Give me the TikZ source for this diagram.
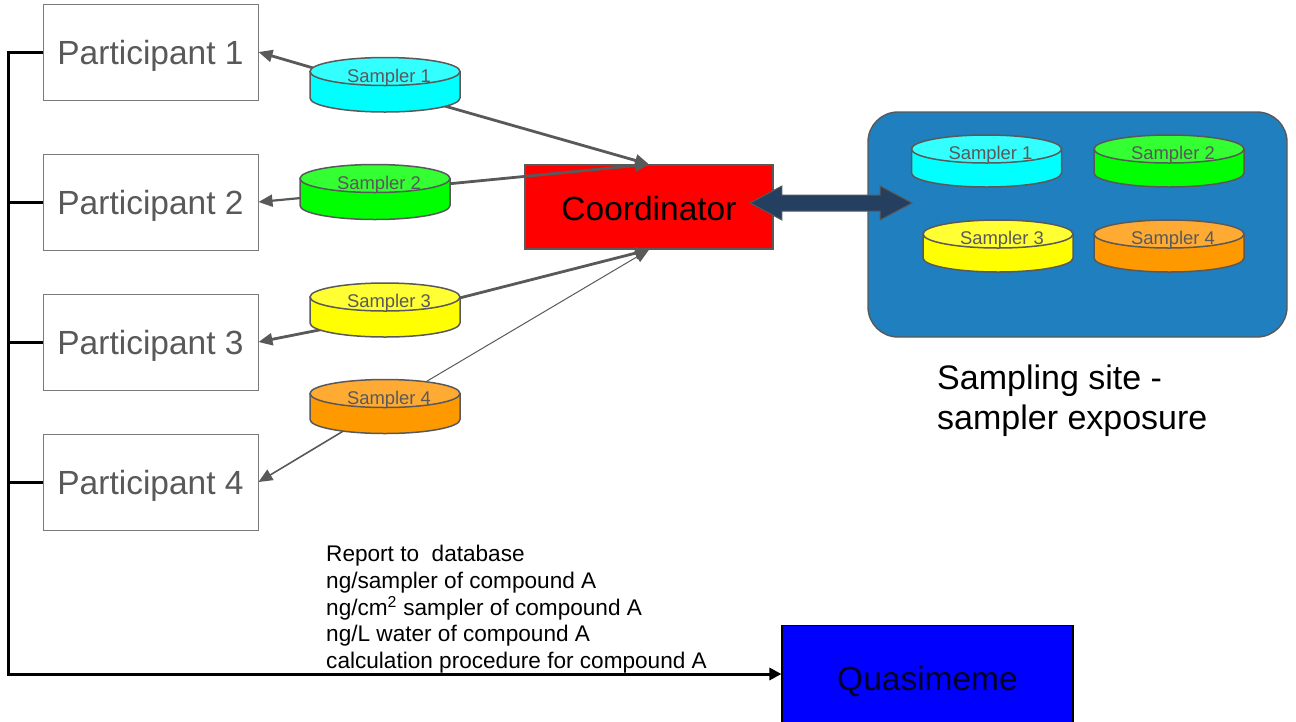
\documentclass[tikz,border=0pt]{standalone}
\usepackage{fontspec}
\setmainfont{Liberation Sans}
\usetikzlibrary{arrows.meta,shapes.arrows}
\definecolor{edgegray}{HTML}{595959}
\definecolor{sitefill}{HTML}{1F7FBF}
\definecolor{linkfill}{HTML}{243F60}
\definecolor{cyanlight}{HTML}{33FFFF}
\definecolor{cyanbody}{HTML}{00FFFF}
\definecolor{greenlight}{HTML}{33FF33}
\definecolor{greenbody}{HTML}{00FF00}
\definecolor{yellowlight}{HTML}{FFFF33}
\definecolor{yellowbody}{HTML}{FFFF00}
\definecolor{orangelight}{HTML}{FFAA33}
\definecolor{orangebody}{HTML}{FF9900}
\definecolor{redbody}{HTML}{FF0000}
\definecolor{bluebody}{HTML}{0000FF}
\newcommand{\low}[2]{\raisebox{-#1pt}[0pt][0pt]{#2}}
\tikzset{
  partbox/.style={draw=edgegray!80,line width=1pt,fill=white,minimum width=215pt,minimum height=96pt,inner sep=0pt,text=edgegray,font=\fontsize{33.5}{36}\selectfont},
  coordbox/.style={draw=edgegray,line width=1.4pt,fill=redbody,minimum width=248pt,minimum height=84pt,inner sep=0pt,text=black,font=\fontsize{33.5}{36}\selectfont},
  quasibox/.style={draw=black,line width=1.1pt,fill=bluebody,minimum width=291pt,minimum height=97pt,inner sep=0pt,text=black!85!blue,font=\fontsize{33.5}{36}\selectfont},
  sitebox/.style={draw=edgegray,line width=1.4pt,fill=sitefill,rounded corners=30pt,minimum width=419pt,minimum height=225pt,inner sep=0pt},
  linkarrow/.style={double arrow,draw=edgegray,line width=1pt,fill=linkfill,minimum height=162pt,double arrow head extend=9pt,double arrow tip angle=56,inner xsep=0pt,inner ysep=7.5pt},
  conn/.style={draw=edgegray,line width=#1,-{Triangle[length=14pt,width=12pt]}},
  trunk/.style={draw=black,line width=3pt},
  disclabel/.style={text=edgegray,font=\fontsize{18.4}{20}\selectfont,inner sep=0pt},
  disc/.style={draw=edgegray,line width=1.5pt},
  plaintext/.style={text=black,inner sep=0pt,align=left,anchor=north west},
}
% centre x, top y, total height, light colour, body colour, text, node name
\newcommand{\samplerdisc}[7]{%
  \path[disc,fill=#5] (#1-75,#2+14) -- (#1-75,#2+#3-14) arc[start angle=180,end angle=360,x radius=75pt,y radius=14pt] -- (#1+75,#2+14) -- cycle;
  \path[disc,fill=#4] (#1,#2+14) ellipse[x radius=75pt,y radius=14pt];
  \node[disclabel] (#7) at (#1+4,#2+20) {#6};
}
\begin{document}
\begin{tikzpicture}[x=1pt,y=-1pt]
\useasboundingbox (0,0) rectangle (1296,721);
% boxes
\node[partbox] (p1) at (150.5,52) {\low{12}{Participant 1}};
\node[partbox] (p2) at (150.5,202) {\low{12}{Participant 2}};
\node[partbox] (p3) at (150.5,342) {\low{12}{Participant 3}};
\node[partbox] (p4) at (150.5,482) {\low{12}{Participant 4}};
\node[coordbox] (coord) at (649,207) {\low{13}{Coordinator}};
\node[sitebox] (site) at (1077.5,224.5) {};
\node[quasibox] (quasi) at (927.5,674) {\low{16}{Quasimeme}};
% hubs of the samplers
\coordinate (h1) at (385,89);
\coordinate (h2) at (375,191);
\coordinate (h3) at (385,317);
\coordinate (h4) at (385,406);
\coordinate (corner) at (8,52);
% connectors
\draw[conn=2.8pt] (h1) -- (p1.east);
\draw[conn=2.8pt] (h1) -- (coord.north);
\draw[conn=2.2pt] (h2) -- (p2.east);
\draw[conn=2.8pt] (h2) -- (coord.north);
\draw[conn=2.8pt] (h3) -- (p3.east);
\draw[conn=2.8pt] (h3) -- (coord.south);
\draw[conn=1.6pt] (h4) -- (p4.east);
\draw[conn=1pt] (h4) -- (coord.south);
% participant trunk
\draw[trunk,-{Triangle[length=12pt,width=12pt]}] (p1.west) -- (corner) |- (quasi.west);
\draw[trunk] (p2.west) -- (p2.west -| corner);
\draw[trunk] (p3.west) -- (p3.west -| corner);
\draw[trunk] (p4.west) -- (p4.west -| corner);
% samplers
\samplerdisc{385}{57.5}{54.5}{cyanlight}{cyanbody}{Sampler 1}{a1}
\samplerdisc{375}{164.5}{55}{greenlight}{greenbody}{Sampler 2}{a2}
\samplerdisc{385}{283}{54}{yellowlight}{yellowbody}{Sampler 3}{a3}
\samplerdisc{385}{379.5}{54}{orangelight}{orangebody}{Sampler 4}{a4}
\samplerdisc{986.5}{135}{52}{cyanlight}{cyanbody}{Sampler 1}{b1}
\samplerdisc{1169}{135}{52}{greenlight}{greenbody}{Sampler 2}{b2}
\samplerdisc{998}{220}{52}{yellowlight}{yellowbody}{Sampler 3}{b3}
\samplerdisc{1169}{220}{52}{orangelight}{orangebody}{Sampler 4}{b4}
% link
\node[linkarrow] (link) at (831,203) {};
% texts
\node[plaintext,font=\fontsize{34}{40}\selectfont] (sitetext) at (937,365) {Sampling site -\\sampler exposure};
\node[plaintext,font=\fontsize{22.6}{26.75}\selectfont] (report) at (326,545) {Report to\ \ database\\ng/sampler of compound A\\ng/cm\textsuperscript{2} sampler of compound A\\ng/L water of compound A\\calculation procedure for compound A};
\end{tikzpicture}
\end{document}
